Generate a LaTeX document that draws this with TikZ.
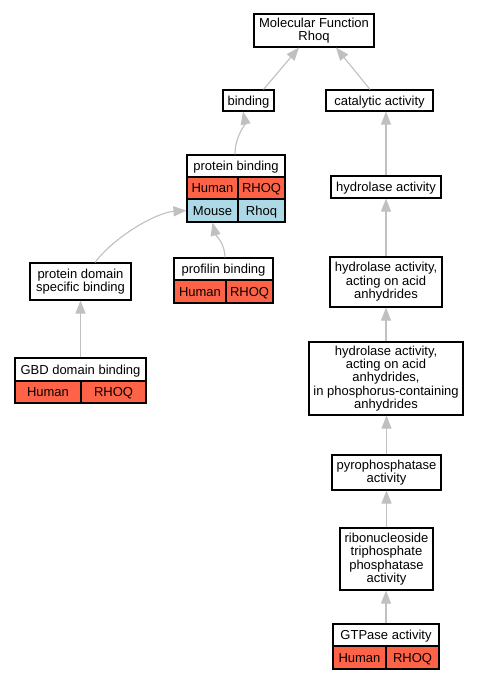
\documentclass[tikz,border=0pt]{standalone}
\usepackage{fontspec}
\setmainfont{Liberation Sans}
\usetikzlibrary{arrows.meta}
\definecolor{hum}{HTML}{FF6347}
\definecolor{mou}{HTML}{ADD8E6}
\definecolor{edgec}{HTML}{C0C0C0}
\begin{document}
\begin{tikzpicture}[x=1pt,y=-1pt,
  box/.style={draw=black, line width=1.1pt, fill=white, inner sep=0pt, align=center,
    font=\fontsize{13}{13.4}\selectfont},
  one/.style={text height=11.8pt, text depth=2.8pt},
  sz/.style 2 args={minimum width=#1pt, minimum height=#2pt},
  hcell/.style={box, one, fill=hum},
  mcell/.style={box, one, fill=mou},
  conn/.style={draw=edgec, line width=1.1pt, -{Triangle[length=13pt,width=10pt]}}]
\fill[white] (0,0) rectangle (480,680);
\useasboundingbox (0,0) rectangle (480,680);

% nodes
\node[box, sz={120}{33}] (mf) at (314,30.5) {Molecular Function\\Rhoq};
\node[box, one, sz={51}{21}] (bind) at (248.5,100.5) {binding};
\node[box, one, sz={107}{21}] (cat) at (379.5,100.5) {catalytic activity};

\node[box, one, sz={98}{22}] (pb) at (236,166) {protein binding};
\node[hcell, sz={51}{22}] (pbh1) at (212.5,188) {Human};
\node[hcell, sz={47}{22}] (pbh2) at (261.5,188) {RHOQ};
\node[mcell, sz={51}{23}] (pbm1) at (212.5,210.5) {Mouse};
\node[mcell, sz={47}{23}] (pbm2) at (261.5,210.5) {Rhoq};

\node[box, one, sz={110}{22}] (hyd) at (386,187) {hydrolase activity};

\node[box, sz={101}{37}] (pds) at (80.5,281.5) {protein domain\\specific binding};

\node[box, one, sz={99}{22}] (prof) at (223.5,269) {profilin binding};
\node[hcell, sz={52}{23}] (profh1) at (200,291.5) {Human};
\node[hcell, sz={47}{23}] (profh2) at (249.5,291.5) {RHOQ};

\node[box, sz={112}{50}] (hyd2) at (386,282) {hydrolase activity,\\acting on acid\\anhydrides};

\node[box, one, sz={131}{23}] (gbd) at (80.5,369.5) {GBD domain binding};
\node[hcell, sz={66}{22}] (gbdh1) at (48,392) {Human};
\node[hcell, sz={65}{22}] (gbdh2) at (113.5,392) {RHOQ};

\node[box, sz={154}{73}] (hyd3) at (386,378.5) {hydrolase activity,\\acting on acid\\anhydrides,\\in phosphorus-containing\\anhydrides};

\node[box, sz={109}{35}] (pyro) at (386.5,472.5) {pyrophosphatase\\activity};
\node[box, sz={93}{62}] (ribo) at (386.5,559) {ribonucleoside\\triphosphate\\phosphatase\\activity};

\node[box, one, sz={106}{22}] (gtp) at (386,635) {GTPase activity};
\node[hcell, sz={53}{23}] (gtph1) at (359.5,657.5) {Human};
\node[hcell, sz={53}{23}] (gtph2) at (412.5,657.5) {RHOQ};

% connectors
\draw[conn] ([xshift=15pt]bind.north) -- ([xshift=-15pt]mf.south);
\draw[conn] ([xshift=-9.5pt]cat.north) -- ([xshift=22pt]mf.south);
\draw[conn] ([xshift=-1pt]pb.north) .. controls ([xshift=-1pt,yshift=18pt]pb.north) and ([xshift=-3pt,yshift=-12pt]bind.south) .. ([xshift=-5.5pt]bind.south);
\draw[conn] ([xshift=1.5pt]prof.north) .. controls ([xshift=1.5pt,yshift=14pt]prof.north) and ([xshift=3pt,yshift=-12pt]pbm1.south) .. (pbm1.south);
\draw[conn] ([xshift=14.5pt]pds.north) .. controls ([xshift=34pt,yshift=26pt]pds.north) and ([xshift=-30pt,yshift=-2pt]pbm1.west) .. (pbm1.west);
\draw[conn] (gbd.north) -- (pds.south);
\draw[conn] (hyd.north) -- (hyd.north |- cat.south);
\draw[conn] (hyd2.north) -- (hyd.south);
\draw[conn] (hyd3.north) -- (hyd2.south);
\draw[conn] (pyro.north) -- (pyro.north |- hyd3.south);
\draw[conn] (ribo.north) -- (pyro.south);
\draw[conn] (gtp.north) -- (gtp.north |- ribo.south);
\end{tikzpicture}
\end{document}
